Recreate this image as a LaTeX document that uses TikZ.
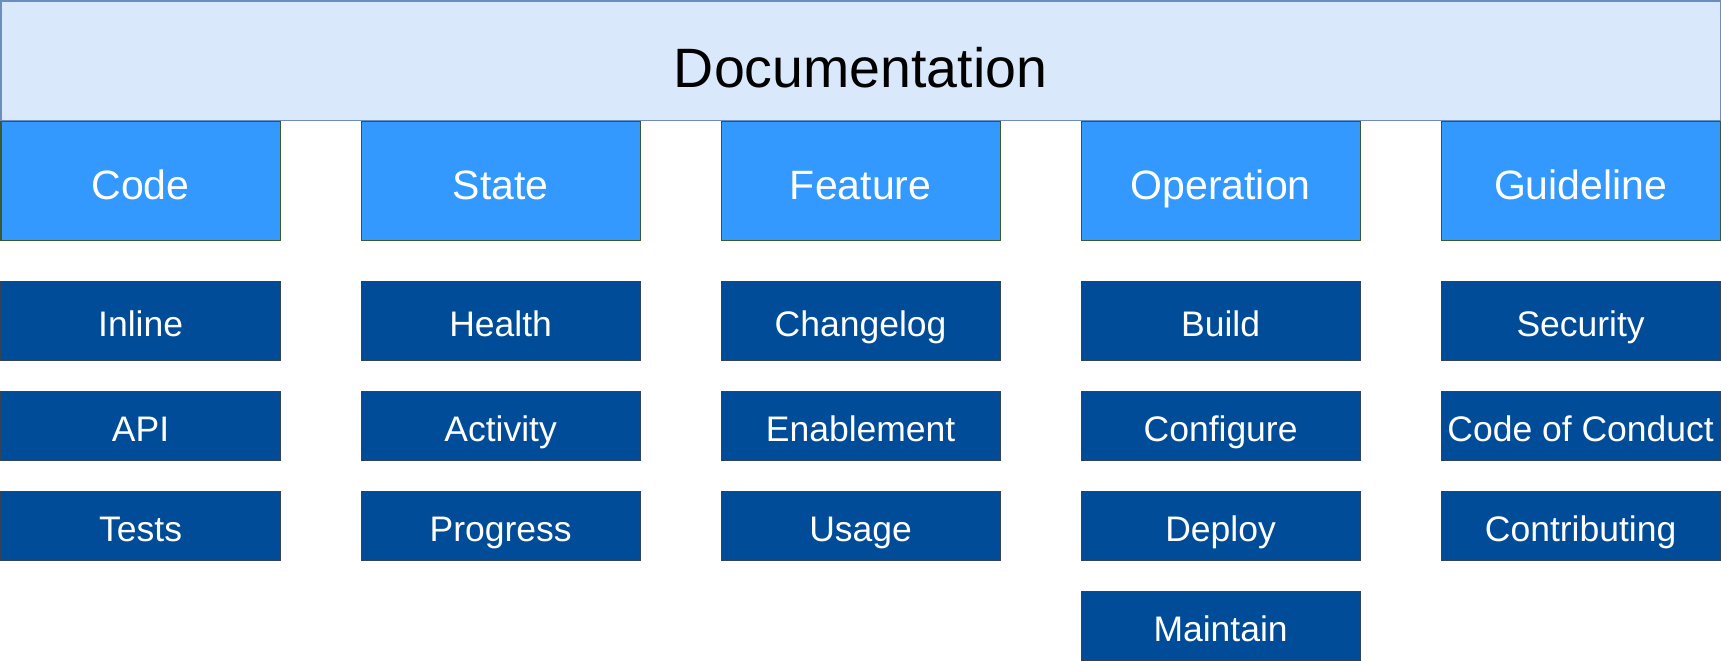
\documentclass[tikz,border=0pt]{standalone}
\usepackage{fontspec}
\setmainfont{Liberation Sans}
\definecolor{topfill}{HTML}{DAE8FC}
\definecolor{topline}{HTML}{6C8EBF}
\definecolor{headfill}{HTML}{3399FF}
\definecolor{headline}{HTML}{3A5A2A}
\definecolor{itemfill}{HTML}{004C99}
\definecolor{itemline}{HTML}{314354}
\tikzset{
  box/.style={rectangle, inner sep=0pt, anchor=north west, line width=1.2pt, text depth=0pt},
  topbox/.style={box, fill=topfill, draw=topline, minimum width=1719pt, minimum height=119pt,
    font=\fontsize{55.5}{60}\selectfont, text=black, text height=54pt},
  headbox/.style={box, fill=headfill, draw=headline, minimum width=279pt, minimum height=119pt,
    font=\fontsize{41}{46}\selectfont, text=white, text height=38pt},
  itembox/.style={box, fill=itemfill, draw=itemline, minimum width=279pt, minimum height=#1,
    font=\fontsize{35.5}{40}\selectfont, text=white, text height=32pt},
  itembox/.default=69pt
}
\begin{document}
\begin{tikzpicture}[x=1pt,y=-1pt]
  \useasboundingbox (0,0) rectangle (1721,661);
  % title bar
  \node[topbox] (doc) at (0.5,0.5) {Documentation};
  % category headers
  \node[headbox] (code) at (0.5,120.5) {Code};
  \node[headbox] (state) at (360.5,120.5) {State};
  \node[headbox] (feature) at (720.5,120.5) {Feature};
  \node[headbox] (operation) at (1080.5,120.5) {Operation};
  \node[headbox] (guideline) at (1440.5,120.5) {Guideline};
  % Code
  \node[itembox=79pt] (inline) at (0.5,280.5) {Inline};
  \node[itembox] (api) at (0.5,390.5) {API};
  \node[itembox] (tests) at (0.5,490.5) {Tests};
  % State
  \node[itembox=79pt] (health) at (360.5,280.5) {Health};
  \node[itembox] (activity) at (360.5,390.5) {Activity};
  \node[itembox] (progress) at (360.5,490.5) {Progress};
  % Feature
  \node[itembox=79pt] (changelog) at (720.5,280.5) {Changelog};
  \node[itembox] (enablement) at (720.5,390.5) {Enablement};
  \node[itembox] (usage) at (720.5,490.5) {Usage};
  % Operation
  \node[itembox=79pt] (build) at (1080.5,280.5) {Build};
  \node[itembox] (configure) at (1080.5,390.5) {Configure};
  \node[itembox] (deploy) at (1080.5,490.5) {Deploy};
  \node[itembox] (maintain) at (1080.5,590.5) {Maintain};
  % Guideline
  \node[itembox=79pt] (security) at (1440.5,280.5) {Security};
  \node[itembox] (conduct) at (1440.5,390.5) {Code of Conduct};
  \node[itembox] (contributing) at (1440.5,490.5) {Contributing};
\end{tikzpicture}
\end{document}
